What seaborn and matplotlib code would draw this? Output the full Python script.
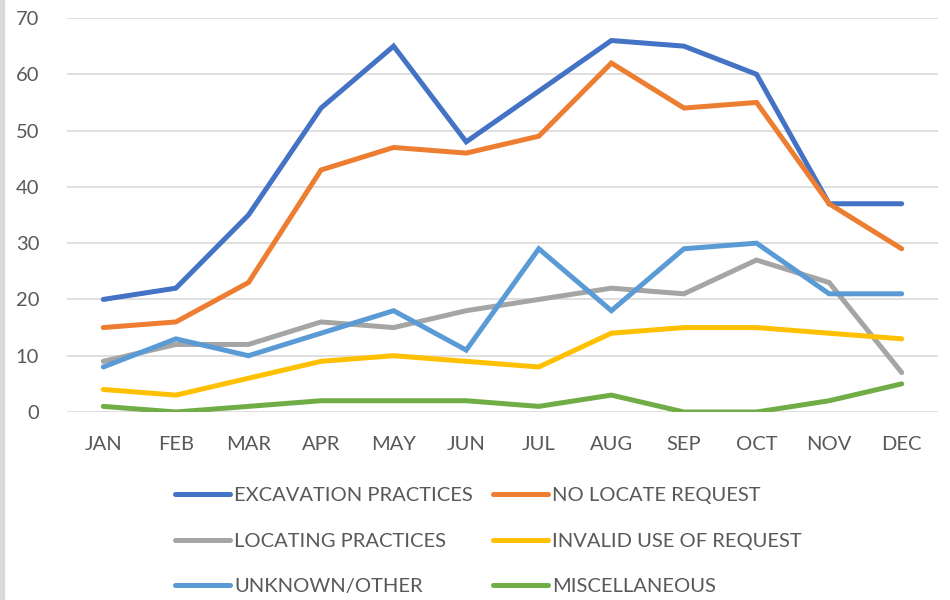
import numpy as np
import pandas as pd
import seaborn as sns
import matplotlib.pyplot as plt
from matplotlib.patches import Rectangle

months = ["JAN", "FEB", "MAR", "APR", "MAY", "JUN",
          "JUL", "AUG", "SEP", "OCT", "NOV", "DEC"]

excavation = [20, 22, 35, 54, 65, 48, 57, 66, 65, 60, 37, 37]
no_locate = [15, 16, 23, 43, 47, 46, 49, 62, 54, 55, 37, 29]
locating = [9, 12, 12, 16, 15, 18, 20, 22, 21, 27, 23, 7]
invalid_use = [4, 3, 6, 9, 10, 9, 8, 14, 15, 15, 14, 13]
unknown = [8, 13, 10, 14, 18, 11, 29, 18, 29, 30, 21, 21]
misc = [1, 0, 1, 2, 2, 2, 1, 3, 0, 0, 2, 5]

series = {
    "EXCAVATION PRACTICES": excavation,
    "NO LOCATE REQUEST": no_locate,
    "LOCATING PRACTICES": locating,
    "INVALID USE OF REQUEST": invalid_use,
    "UNKNOWN/OTHER": unknown,
    "MISCELLANEOUS": misc,
}
colors = ["#4472C4", "#ED7D31", "#A5A5A5", "#FFC000", "#5B9BD5", "#70AD47"]

rows = []
for name, vals in series.items():
    for i, v in enumerate(vals):
        rows.append({"month": i, "cause": name, "count": v})
df = pd.DataFrame(rows)

sns.set_theme(style="white")
plt.rcParams["font.family"] = ["Lato", "DejaVu Sans"]
text_color = "#595959"
fs = 14.5

fig = plt.figure(figsize=(9.5, 6), dpi=100)
ax = fig.add_axes([67 / 950, 1 - 412 / 600, (938 - 67) / 950, (412 - 18) / 600])

sns.lineplot(data=df, x="month", y="count", hue="cause",
             palette=colors, linewidth=3.6, ax=ax, legend=True,
             solid_capstyle="round", solid_joinstyle="miter")

ax.set_xlim(-0.5, 11.5)
ax.set_ylim(0, 70)
ax.set_yticks(np.arange(0, 71, 10))
ax.set_xticks(range(12))
ax.set_xticklabels(months)
ax.set_xlabel("")
ax.set_ylabel("")
ax.yaxis.grid(True, color="#D9D9D9", linewidth=1.2)
ax.set_axisbelow(True)
for s in ax.spines.values():
    s.set_visible(False)
ax.tick_params(axis="both", length=0, labelsize=fs, labelcolor=text_color)
ax.tick_params(axis="y", pad=20)
ax.tick_params(axis="x", pad=17)

handles, labels = ax.get_legend_handles_labels()
ax.get_legend().remove()
order = [0, 2, 4, 1, 3, 5]
leg = fig.legend([handles[i] for i in order], [labels[i] for i in order],
                 ncol=2, loc="center", bbox_to_anchor=(0.514, 0.098),
                 frameon=False, fontsize=fs, handlelength=2.75,
                 handletextpad=0.2, columnspacing=1.0, labelspacing=1.42)
for t in leg.get_texts():
    t.set_color(text_color)
for h in leg.get_lines():
    h.set_linewidth(3.6)

# light grey strip at the left edge
fig.add_artist(Rectangle((0, 0), 4 / 950, 1, transform=fig.transFigure,
                         color="#D9D9D9", zorder=0))

fig.savefig("out.png", dpi=100)
